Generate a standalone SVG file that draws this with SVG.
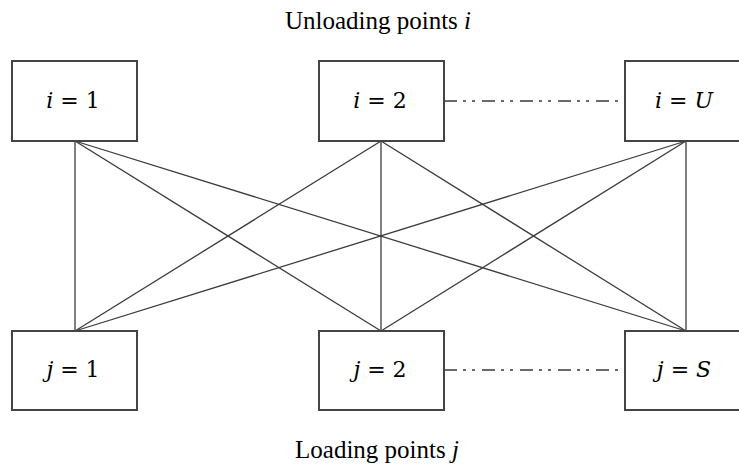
<svg xmlns="http://www.w3.org/2000/svg" width="739" height="466" viewBox="0 0 739 466">
<style>
.box{fill:#fff;stroke:#444;stroke-width:2}
.lbl{font-family:"DejaVu Serif","Liberation Serif",serif;font-size:22px;fill:#000;text-anchor:middle}
.var{font-style:italic}
.title{font-family:"Liberation Serif",serif;font-size:25px;fill:#000;text-anchor:middle}
.edge{stroke:#3c3c3c;stroke-width:1.3;fill:none}
.dd{stroke:#6a6a6a;stroke-width:2.2;fill:none;stroke-dasharray:13 6 3 6 3 7}
</style>
<rect width="739" height="466" fill="#fff"/>
<text class="title" x="378" y="29">Unloading points <tspan font-style="italic">i</tspan></text>
<text class="title" x="377" y="458">Loading points <tspan font-style="italic">j</tspan></text>
<g id="connectors">
<line class="edge" x1="75" y1="141" x2="75" y2="331"/>
<line class="edge" x1="75" y1="141" x2="381" y2="331"/>
<line class="edge" x1="75" y1="141" x2="686" y2="331"/>
<line class="edge" x1="381" y1="141" x2="75" y2="331"/>
<line class="edge" x1="381" y1="141" x2="381" y2="331"/>
<line class="edge" x1="381" y1="141" x2="686" y2="331"/>
<line class="edge" x1="686" y1="141" x2="75" y2="331"/>
<line class="edge" x1="686" y1="141" x2="381" y2="331"/>
<line class="edge" x1="686" y1="141" x2="686" y2="331"/>
<line class="dd" x1="444" y1="101" x2="625" y2="101"/>
<line class="dd" x1="444" y1="370" x2="625" y2="370"/>
</g>
<g id="i1"><rect class="box" x="12" y="61" width="125" height="80"/><text class="lbl" x="73" y="108"><tspan class="var">i</tspan> = 1</text></g>
<g id="i2"><rect class="box" x="319" y="61" width="125" height="80"/><text class="lbl" x="380" y="108"><tspan class="var">i</tspan> = 2</text></g>
<g id="iU"><rect class="box" x="625" y="61" width="125" height="80"/><text class="lbl" x="684" y="108"><tspan class="var">i</tspan> = <tspan class="var">U</tspan></text></g>
<g id="j1"><rect class="box" x="12" y="331" width="125" height="79"/><text class="lbl" x="73" y="377"><tspan class="var">j</tspan> = 1</text></g>
<g id="j2"><rect class="box" x="319" y="331" width="125" height="79"/><text class="lbl" x="380" y="377"><tspan class="var">j</tspan> = 2</text></g>
<g id="jS"><rect class="box" x="625" y="331" width="125" height="79"/><text class="lbl" x="684" y="377"><tspan class="var">j</tspan> = <tspan class="var">S</tspan></text></g>
</svg>
